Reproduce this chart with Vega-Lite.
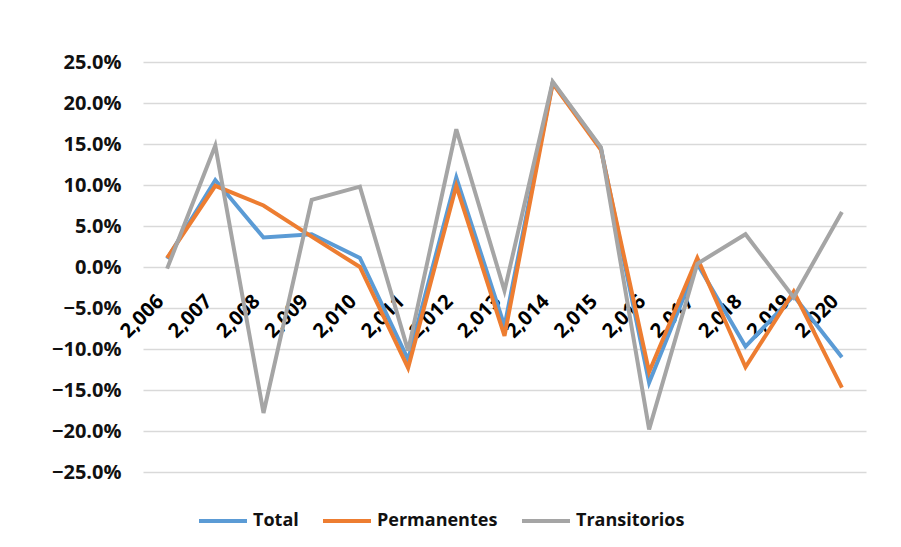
{
  "$schema": "https://vega.github.io/schema/vega-lite/v6.json",
  "width": 723,
  "height": 410,
  "autosize": "none",
  "padding": {"left": 143, "top": 62, "right": 35, "bottom": 75},
  "background": "white",
  "config": {
    "view": {"stroke": null},
    "font": "Open Sans"
  },
  "data": {
    "values": [
      {"year": 2006, "serie": "Total", "value": 0.010},
      {"year": 2007, "serie": "Total", "value": 0.106},
      {"year": 2008, "serie": "Total", "value": 0.036},
      {"year": 2009, "serie": "Total", "value": 0.040},
      {"year": 2010, "serie": "Total", "value": 0.011},
      {"year": 2011, "serie": "Total", "value": -0.113},
      {"year": 2012, "serie": "Total", "value": 0.109},
      {"year": 2013, "serie": "Total", "value": -0.072},
      {"year": 2014, "serie": "Total", "value": 0.225},
      {"year": 2015, "serie": "Total", "value": 0.145},
      {"year": 2016, "serie": "Total", "value": -0.141},
      {"year": 2017, "serie": "Total", "value": 0.004},
      {"year": 2018, "serie": "Total", "value": -0.097},
      {"year": 2019, "serie": "Total", "value": -0.035},
      {"year": 2020, "serie": "Total", "value": -0.110},
      {"year": 2006, "serie": "Permanentes", "value": 0.011},
      {"year": 2007, "serie": "Permanentes", "value": 0.099},
      {"year": 2008, "serie": "Permanentes", "value": 0.075},
      {"year": 2009, "serie": "Permanentes", "value": 0.037},
      {"year": 2010, "serie": "Permanentes", "value": 0.000},
      {"year": 2011, "serie": "Permanentes", "value": -0.123},
      {"year": 2012, "serie": "Permanentes", "value": 0.099},
      {"year": 2013, "serie": "Permanentes", "value": -0.084},
      {"year": 2014, "serie": "Permanentes", "value": 0.224},
      {"year": 2015, "serie": "Permanentes", "value": 0.143},
      {"year": 2016, "serie": "Permanentes", "value": -0.128},
      {"year": 2017, "serie": "Permanentes", "value": 0.011},
      {"year": 2018, "serie": "Permanentes", "value": -0.122},
      {"year": 2019, "serie": "Permanentes", "value": -0.030},
      {"year": 2020, "serie": "Permanentes", "value": -0.147},
      {"year": 2006, "serie": "Transitorios", "value": -0.002},
      {"year": 2007, "serie": "Transitorios", "value": 0.148},
      {"year": 2008, "serie": "Transitorios", "value": -0.178},
      {"year": 2009, "serie": "Transitorios", "value": 0.082},
      {"year": 2010, "serie": "Transitorios", "value": 0.098},
      {"year": 2011, "serie": "Transitorios", "value": -0.102},
      {"year": 2012, "serie": "Transitorios", "value": 0.168},
      {"year": 2013, "serie": "Transitorios", "value": -0.029},
      {"year": 2014, "serie": "Transitorios", "value": 0.226},
      {"year": 2015, "serie": "Transitorios", "value": 0.146},
      {"year": 2016, "serie": "Transitorios", "value": -0.198},
      {"year": 2017, "serie": "Transitorios", "value": 0.004},
      {"year": 2018, "serie": "Transitorios", "value": 0.040},
      {"year": 2019, "serie": "Transitorios", "value": -0.037},
      {"year": 2020, "serie": "Transitorios", "value": 0.067}
    ]
  },
  "mark": {"type": "line", "strokeWidth": 4, "strokeJoin": "miter", "strokeCap": "butt"},
  "encoding": {
    "x": {
      "field": "year",
      "type": "ordinal",
      "scale": {"type": "point", "padding": 0.5},
      "axis": {
        "title": null,
        "offset": -205,
        "zindex": 0,
        "domain": false,
        "ticks": false,
        "grid": false,
        "labelAngle": -45,
        "labelAlign": "right",
        "labelBaseline": "bottom",
        "labelPadding": 38,
        "labelFont": "Open Sans",
        "labelFontWeight": "bold",
        "labelFontSize": 20,
        "labelColor": "#000000",
        "labelExpr": "format(datum.value, ',')"
      }
    },
    "y": {
      "field": "value",
      "type": "quantitative",
      "scale": {"domain": [-0.25, 0.25], "nice": false, "zero": false},
      "axis": {
        "title": null,
        "format": ".1%",
        "values": [-0.25, -0.2, -0.15, -0.1, -0.05, 0, 0.05, 0.1, 0.15, 0.2, 0.25],
        "domain": false,
        "ticks": false,
        "gridColor": "#d9d9d9",
        "gridWidth": 1.5,
        "labelPadding": 22,
        "labelFont": "Open Sans",
        "labelFontWeight": "bold",
        "labelFontSize": 20,
        "labelColor": "#111111"
      }
    },
    "color": {
      "field": "serie",
      "type": "nominal",
      "scale": {
        "domain": ["Total", "Permanentes", "Transitorios"],
        "range": ["#5B9BD5", "#ED7D31", "#A5A5A5"]
      },
      "legend": {
        "title": null,
        "orient": "none",
        "direction": "horizontal",
        "legendX": 54,
        "legendY": 433,
        "symbolType": "stroke",
        "symbolSize": 2304,
        "symbolStrokeWidth": 4,
        "labelFont": "Open Sans",
        "labelFontWeight": "bold",
        "labelFontSize": 18,
        "labelColor": "#111111",
        "labelOffset": 4,
        "columnPadding": 16
      }
    },
    "order": {"field": "year", "type": "quantitative"}
  }
}
